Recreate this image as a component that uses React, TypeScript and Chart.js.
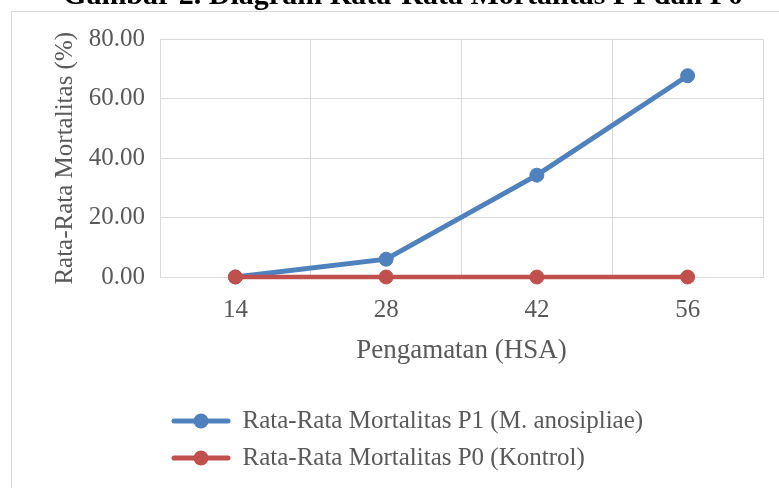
import React, { useEffect, useRef } from "react";
import { Chart, registerables } from "chart.js";

Chart.register(...registerables);

const categories = ["14", "28", "42", "56"];
const seriesP1 = [0, 6, 34.3, 67.8];
const seriesP0 = [0, 0, 0, 0];
const labelP1 = "Rata-Rata Mortalitas P1 (M. anosipliae)";
const labelP0 = "Rata-Rata Mortalitas P0 (Kontrol)";
const chartTitle = "Gambar 2. Diagram Rata-Rata Mortalitas P1 dan P0";
const yTitle = "Rata-Rata Mortalitas (%)";
const xTitle = "Pengamatan (HSA)";
const yMin = 0;
const yMax = 80;
const yStep = 20;

const BLUE = "#4f81bd";
const RED = "#c0504d";
const TEXT = "#595959";
const GRID = "#d9d9d9";
const FONT = "'Liberation Serif', 'Times New Roman', serif";

function makeMarker(color: string): HTMLCanvasElement {
  const c = document.createElement("canvas");
  c.width = 60;
  c.height = 18;
  const ctx = c.getContext("2d")!;
  ctx.strokeStyle = color;
  ctx.lineWidth = 5;
  ctx.lineCap = "round";
  ctx.beginPath();
  ctx.moveTo(3, 9);
  ctx.lineTo(57, 9);
  ctx.stroke();
  ctx.fillStyle = color;
  ctx.beginPath();
  ctx.arc(30, 9, 7.5, 0, Math.PI * 2);
  ctx.fill();
  return c;
}

const framePlugin = {
  id: "frameAndTitle",
  beforeDraw(chart: any) {
    const ctx = chart.ctx;
    ctx.save();
    ctx.strokeStyle = GRID;
    ctx.lineWidth = 1;
    ctx.beginPath();
    ctx.moveTo(11.5, chart.height);
    ctx.lineTo(11.5, 11.5);
    ctx.lineTo(chart.width, 11.5);
    ctx.stroke();
    ctx.restore();
  },
  afterDraw(chart: any) {
    const ctx = chart.ctx;
    ctx.save();
    ctx.fillStyle = "#000";
    ctx.font = `bold 30px ${FONT}`;
    ctx.textAlign = "center";
    ctx.textBaseline = "alphabetic";
    ctx.fillText(chartTitle, 403, 4);
    ctx.restore();
  },
};

export default function App() {
  const ref = useRef<HTMLCanvasElement | null>(null);

  useEffect(() => {
    if (!ref.current) return;
    const markerP1 = makeMarker(BLUE);
    const markerP0 = makeMarker(RED);
    const chart = new Chart(ref.current, {
      type: "line",
      data: {
        labels: categories,
        datasets: [
          {
            label: labelP1,
            data: seriesP1,
            borderColor: BLUE,
            backgroundColor: BLUE,
            borderWidth: 5,
            pointRadius: 7,
            pointBorderWidth: 1,
            pointBackgroundColor: BLUE,
            pointBorderColor: BLUE,
            tension: 0,
            clip: false as any,
            order: 1,
          },
          {
            label: labelP0,
            data: seriesP0,
            borderColor: RED,
            backgroundColor: RED,
            borderWidth: 4.5,
            pointRadius: 7,
            pointBorderWidth: 1,
            pointBackgroundColor: RED,
            pointBorderColor: RED,
            tension: 0,
            clip: false as any,
            order: 0,
          },
        ],
      },
      options: {
        responsive: false,
        animation: false,
        events: [],
        layout: { padding: { top: 39.5, right: 16, bottom: 7.5, left: 0 } },
        plugins: {
          tooltip: { enabled: false },
          title: { display: false },
          legend: {
            display: true,
            position: "bottom",
            align: "start",
            fullSize: false,
            labels: {
              usePointStyle: true,
              pointStyleWidth: 58,
              padding: 12,
              color: TEXT,
              font: { family: FONT, size: 25 },
              generateLabels: (c: any) =>
                c.data.datasets.map((ds: any, i: number) => ({
                  text: ds.label,
                  fillStyle: ds.borderColor,
                  strokeStyle: ds.borderColor,
                  lineWidth: 0,
                  pointStyle: i === 0 ? markerP1 : markerP0,
                  hidden: !c.isDatasetVisible(i),
                  datasetIndex: i,
                  fontColor: TEXT,
                })),
            },
          },
        },
        scales: {
          x: {
            type: "category",
            offset: true,
            grid: { offset: true, color: GRID, lineWidth: 1, drawTicks: false },
            border: { color: GRID, width: 1 },
            ticks: { color: TEXT, padding: 18, font: { family: FONT, size: 25 } },
            title: {
              display: true,
              text: xTitle,
              color: TEXT,
              font: { family: FONT, size: 27 },
              padding: { top: 0, bottom: 29 },
            },
            afterFit: (scale: any) => {
              scale.height = 119.5;
            },
          },
          y: {
            min: yMin,
            max: yMax,
            grid: { color: GRID, lineWidth: 1, drawTicks: false },
            border: { color: GRID, width: 1 },
            ticks: {
              stepSize: yStep,
              color: TEXT,
              padding: 15,
              font: { family: FONT, size: 25 },
              callback: (v: any) => Number(v).toFixed(2),
            },
            title: {
              display: true,
              text: yTitle,
              color: TEXT,
              font: { family: FONT, size: 25 },
              padding: { top: 50, bottom: 0 },
            },
            afterFit: (scale: any) => {
              scale.width = 160;
            },
          },
        },
      },
      plugins: [framePlugin],
    });
    return () => chart.destroy();
  }, []);

  return (
    <div style={{ position: "fixed", left: 0, top: 0, width: 779, height: 488, background: "#fff" }}>
      <canvas ref={ref} width={779} height={488} style={{ display: "block" }} />
    </div>
  );
}
